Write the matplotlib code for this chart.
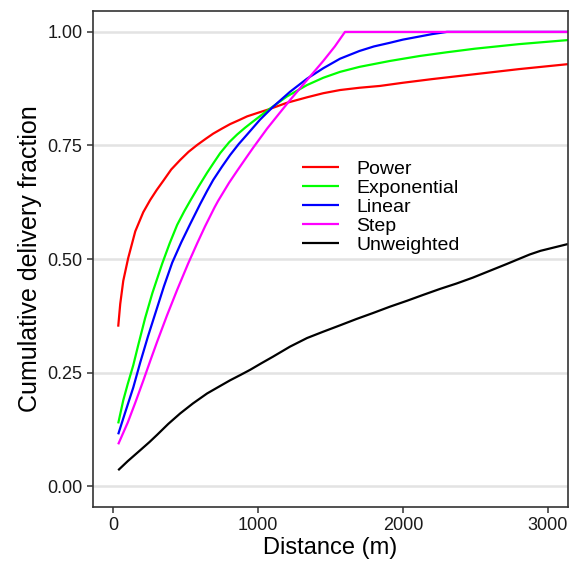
import matplotlib
matplotlib.use("Agg")
import matplotlib.pyplot as plt

plt.rcParams['font.family'] = ['Liberation Sans', 'DejaVu Sans']

power_x = [34, 48, 69, 103, 152, 207, 255, 300, 345, 400, 462, 520, 579, 640, 690, 750, 807, 870, 924, 1000, 1069, 1200, 1338, 1450, 1566, 1700, 1841, 2000, 2200, 2500, 2800, 3140]
power_y = [0.351, 0.401, 0.452, 0.502, 0.561, 0.603, 0.630, 0.652, 0.672, 0.697, 0.718, 0.736, 0.751, 0.765, 0.776, 0.787, 0.797, 0.806, 0.814, 0.822, 0.829, 0.844, 0.856, 0.865, 0.872, 0.877, 0.881, 0.888, 0.896, 0.907, 0.918, 0.929]

expo_x = [34, 69, 100, 138, 172, 220, 270, 338, 390, 441, 490, 531, 590, 648, 700, 738, 800, 855, 910, 966, 1069, 1200, 1338, 1450, 1566, 1700, 1910, 2117, 2300, 2497, 2800, 3140]
expo_y = [0.138, 0.189, 0.225, 0.266, 0.31, 0.37, 0.425, 0.49, 0.535, 0.575, 0.605, 0.628, 0.66, 0.69, 0.715, 0.733, 0.757, 0.774, 0.789, 0.803, 0.828, 0.858, 0.883, 0.899, 0.912, 0.923, 0.936, 0.947, 0.955, 0.963, 0.973, 0.982]

linear_x = [34, 80, 138, 186, 240, 300, 350, 407, 470, 531, 600, 648, 690, 750, 807, 866, 924, 1014, 1103, 1220, 1338, 1450, 1566, 1700, 1800, 1910, 2000, 2117, 2200, 2303, 3140]
linear_y = [0.114, 0.16, 0.217, 0.272, 0.33, 0.39, 0.44, 0.492, 0.537, 0.577, 0.621, 0.65, 0.674, 0.703, 0.729, 0.753, 0.774, 0.807, 0.835, 0.868, 0.897, 0.92, 0.941, 0.958, 0.968, 0.976, 0.983, 0.99, 0.995, 1.0, 1.0]

step_x = [34, 100, 150, 207, 260, 303, 370, 441, 517, 580, 634, 700, 724, 800, 855, 920, 966, 1062, 1150, 1221, 1290, 1370, 1450, 1530, 1600, 3140]
step_y = [0.092, 0.14, 0.182, 0.232, 0.28, 0.318, 0.375, 0.432, 0.49, 0.535, 0.572, 0.614, 0.628, 0.668, 0.694, 0.724, 0.745, 0.787, 0.822, 0.85, 0.876, 0.906, 0.936, 0.968, 1.0, 1.0]

unw_x = [34, 100, 186, 250, 303, 380, 462, 550, 648, 730, 807, 880, 945, 1020, 1103, 1220, 1338, 1450, 1566, 1680, 1793, 1910, 2028, 2140, 2255, 2370, 2483, 2600, 2717, 2800, 2876, 2950, 3140]
unw_y = [0.035, 0.055, 0.079, 0.097, 0.113, 0.137, 0.16, 0.182, 0.204, 0.219, 0.233, 0.245, 0.256, 0.27, 0.285, 0.307, 0.326, 0.34, 0.354, 0.368, 0.381, 0.395, 0.408, 0.421, 0.434, 0.446, 0.459, 0.474, 0.489, 0.5, 0.51, 0.518, 0.533]

labels = ["Power", "Exponential", "Linear", "Step", "Unweighted"]
colors = ["#FF0000", "#00FF00", "#0000FF", "#FF00FF", "#000000"]
x_ticks = [0, 1000, 2000, 3000]
y_ticks = [0.0, 0.25, 0.5, 0.75, 1.0]
y_ticklabels = ["0.00", "0.25", "0.50", "0.75", "1.00"]

fig = plt.figure(figsize=(5.73, 5.70), dpi=100)
ax = fig.add_axes([93/573, 1 - 507/570, 475/573, 496/570])

series = [(power_x, power_y), (expo_x, expo_y), (linear_x, linear_y), (step_x, step_y), (unw_x, unw_y)]
for (xs, ys), lab, col in zip(series, labels, colors):
    ax.plot(xs, ys, color=col, lw=1.6, label=lab, solid_capstyle='butt', solid_joinstyle='round')

ax.set_xlim(-140, 3140)
ax.set_ylim(-0.046, 1.046)
ax.set_xticks(x_ticks)
ax.set_yticks(y_ticks)
ax.set_yticklabels(y_ticklabels)
ax.grid(axis='y', color='#e3e3e3', lw=1.8)
ax.set_axisbelow(True)
for s in ax.spines.values():
    s.set_color('#333333')
    s.set_linewidth(1.2)
ax.tick_params(axis='both', direction='out', length=4.5, width=1.1, color='#333333',
               labelsize=13, labelcolor='#1a1a1a', pad=3)
ax.set_xlabel("Distance (m)", fontsize=17, labelpad=2)
ax.set_ylabel("Cumulative delivery fraction", fontsize=18, labelpad=4)

leg = ax.legend(loc='upper left', bbox_to_anchor=((302 - 93) / 475, (507 - 160) / 496),
                frameon=False, fontsize=14, handlelength=1.9, handletextpad=0.9,
                labelspacing=0.07, borderpad=0, borderaxespad=0)

fig.savefig("out.png", dpi=100)
